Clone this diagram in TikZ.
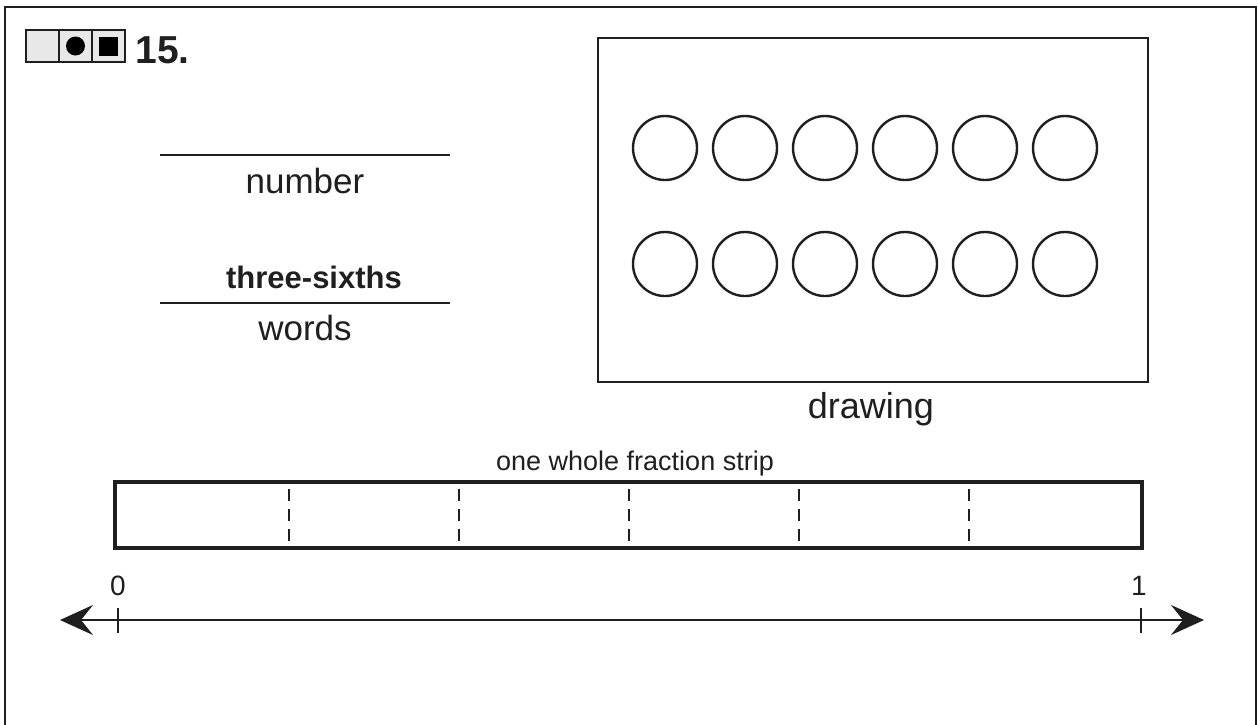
\documentclass[tikz,border=0pt]{standalone}
\usepackage{fontspec}
\setmainfont{Liberation Sans}
\usetikzlibrary{arrows.meta}
\begin{document}
\begin{tikzpicture}[x=0.5pt,y=-0.5pt,
  ink/.style={draw=black!88},
  txt/.style={inner sep=0pt,anchor=base,text=black!88},
  cellbox/.style={ink,line width=1pt,fill=black!9},
  ring/.style={ink,line width=1.2pt,circle,minimum size=32pt,inner sep=0pt},
  rule/.style={ink,line width=1.2pt},
  divider/.style={ink,line width=1.4pt,dash pattern=on 6pt off 4pt},
  tick/.style={ink,line width=1.2pt},
  nline/.style={ink,line width=1.2pt,{Stealth[length=16.5pt,width=15pt,inset=6pt]}-{Stealth[length=16.5pt,width=15pt,inset=6pt]}}
]
\useasboundingbox (0,0) rectangle (1258,724);
% outer frame
\draw[ink,line width=1.3pt] (5,730) -- (5,7) -- (1256,7) -- (1256,730);
% icon
\node[cellbox,minimum width=16.5pt,minimum height=16pt,inner sep=0pt] (c1) at (42.5,46) {};
\node[cellbox,minimum width=16.5pt,minimum height=16pt,inner sep=0pt] (c2) at (75.5,46) {};
\node[cellbox,minimum width=16.5pt,minimum height=16pt,inner sep=0pt] (c3) at (108.5,46) {};
\node[circle,fill=black,minimum size=9.5pt,inner sep=0pt] (dot) at (c2) {};
\node[fill=black,minimum size=9.5pt,inner sep=0pt] (sq) at (c3) {};
\node[txt,anchor=base west,font=\fontsize{19.5}{22}\selectfont\bfseries] (num) at (135,63) {15.};
% number / words
\coordinate (n1) at (160,155); \coordinate (n2) at (450,155);
\draw[rule] (n1) -- (n2);
\node[txt,font=\fontsize{17.5}{20}\selectfont] (lnum) at (305,193) {number};
\node[txt,font=\fontsize{15.5}{18}\selectfont\bfseries] (ans) at (314,288) {three-sixths};
\coordinate (w1) at (160,303); \coordinate (w2) at (450,303);
\draw[rule] (w1) -- (w2);
\node[txt,font=\fontsize{17.5}{20}\selectfont] (lwords) at (305,340) {words};
% drawing box
\node[ink,line width=1.2pt,minimum width=275pt,minimum height=172pt,inner sep=0pt] (box) at (873,210) {};
\foreach \i/\x in {1/665,2/745,3/825,4/905,5/985,6/1065}{
  \node[ring] (a\i) at (\x,148) {};
  \node[ring] (b\i) at (\x,264) {};
}
\node[txt,font=\fontsize{18}{21}\selectfont] (ldraw) at (871,418) {drawing};
% fraction strip
\node[txt,font=\fontsize{13.5}{16}\selectfont] (lstrip) at (635,470) {one whole fraction strip};
\node[ink,line width=2pt,minimum width=513.5pt,minimum height=33pt,inner sep=0pt] (strip) at (628.5,515) {};
\foreach \x in {289,459,629,799,969}{
  \draw[divider] (\x,489) -- (\x,545);
}
% number line
\coordinate (L) at (60,620); \coordinate (R) at (1204,620);
\draw[nline] (L) -- (R);
\coordinate (t0) at (118,620); \coordinate (t1) at (1141,620);
\draw[tick] ([yshift=-6.5pt]t0) -- ([yshift=6pt]t0);
\draw[tick] ([yshift=-6.5pt]t1) -- ([yshift=6pt]t1);
\node[txt,font=\fontsize{14}{17}\selectfont] (z) at (118,595) {0};
\node[txt,font=\fontsize{14}{17}\selectfont] (o) at (1139,595) {1};
\end{tikzpicture}
\end{document}
